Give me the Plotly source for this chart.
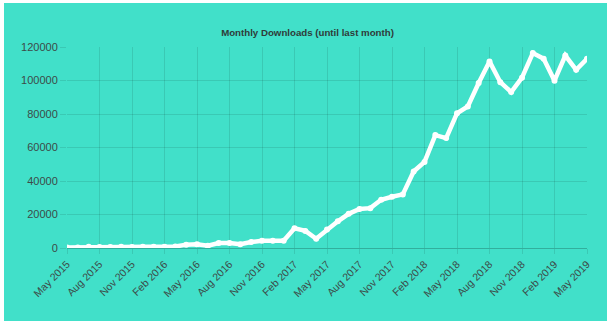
import plotly.graph_objects as go

# Monthly download counts, May 2015 .. May 2019
months = [
    "May 2015", "Jun 2015", "Jul 2015", "Aug 2015", "Sep 2015", "Oct 2015", "Nov 2015",
    "Dec 2015", "Jan 2016", "Feb 2016", "Mar 2016", "Apr 2016", "May 2016", "Jun 2016",
    "Jul 2016", "Aug 2016", "Sep 2016", "Oct 2016", "Nov 2016", "Dec 2016", "Jan 2017",
    "Feb 2017", "Mar 2017", "Apr 2017", "May 2017", "Jun 2017", "Jul 2017", "Aug 2017",
    "Sep 2017", "Oct 2017", "Nov 2017", "Dec 2017", "Jan 2018", "Feb 2018", "Mar 2018",
    "Apr 2018", "May 2018", "Jun 2018", "Jul 2018", "Aug 2018", "Sep 2018", "Oct 2018",
    "Nov 2018", "Dec 2018", "Jan 2019", "Feb 2019", "Mar 2019", "Apr 2019", "May 2019",
]
downloads = [
    300, 300, 800, 600, 600, 700, 600,
    700, 700, 700, 900, 2000, 2200, 1400,
    3000, 3000, 2300, 3600, 4300, 4300, 4300,
    11800, 10200, 5500, 11000, 15900, 20400, 23300,
    23800, 28800, 30600, 32000, 45700, 51400, 67400,
    65600, 80400, 84500, 98500, 111400, 99000, 93100,
    101700, 116400, 113000, 99900, 114900, 106400, 113000,
]
tick_labels = months[::3]
y_ticks = [0, 20000, 40000, 60000, 80000, 100000, 120000]

bg = "rgb(65,224,201)"
grid = "rgba(0,0,0,0.10)"
text_col = "#3d4b48"

fig = go.Figure(
    go.Scatter(
        x=months,
        y=downloads,
        mode="lines+markers",
        line=dict(color="white", width=4.5),
        marker=dict(color="white", size=6),
        hoverinfo="x+y",
    )
)

fig.update_layout(
    width=615,
    height=326,
    margin=dict(l=67, r=28, t=47, b=78),
    paper_bgcolor="white",
    plot_bgcolor="rgba(0,0,0,0)",
    showlegend=False,
    font=dict(family="Liberation Sans, Arial, sans-serif", size=11, color=text_col),
    title=dict(
        text="<b>Monthly Downloads (until last month)</b>",
        x=0.5,
        xanchor="center",
        y=1 - 33 / 326,
        yanchor="middle",
        font=dict(size=9.7, color="#2f3b39"),
    ),
    shapes=[
        dict(
            type="rect",
            xref="paper",
            yref="paper",
            x0=(4 - 67) / 520,
            x1=(607 - 67) / 520,
            y0=(248 - 321) / 201,
            y1=(248 - 3) / 201,
            fillcolor=bg,
            line=dict(width=0),
            layer="below",
        )
    ],
)

fig.update_xaxes(
    type="category",
    range=[0, len(months) - 1],
    tickmode="array",
    tickvals=tick_labels,
    ticktext=tick_labels,
    tickangle=-45,
    showgrid=True,
    gridcolor=grid,
    gridwidth=1,
    ticks="outside",
    ticklen=5,
    tickcolor=grid,
    showline=True,
    linecolor="rgba(0,0,0,0.22)",
    linewidth=1,
    zeroline=False,
    tickfont=dict(size=10.5, color=text_col),
)

fig.update_yaxes(
    range=[0, 120000],
    tickmode="array",
    tickvals=y_ticks,
    tickformat="d",
    showgrid=True,
    gridcolor=grid,
    gridwidth=1,
    ticks="outside",
    ticklen=6,
    tickcolor=grid,
    zeroline=False,
    showline=False,
    tickfont=dict(size=11, color=text_col),
)

fig.write_html("out.html")
